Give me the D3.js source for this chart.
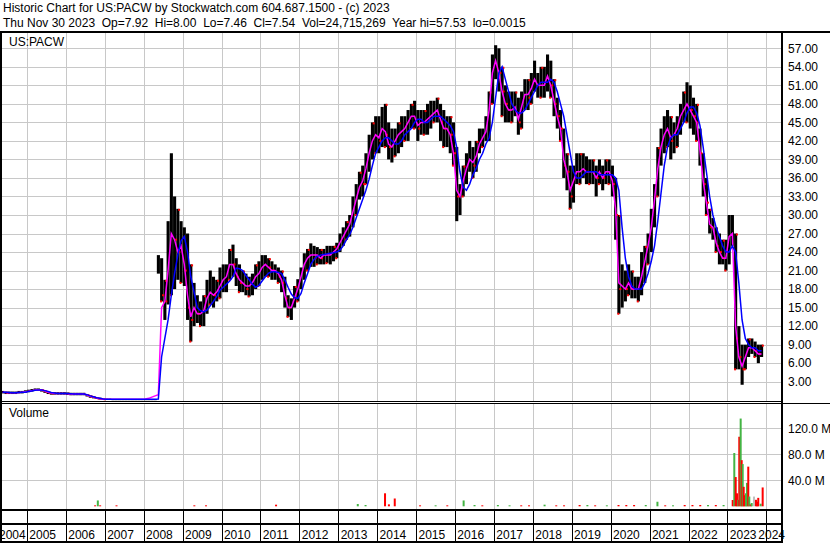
<!DOCTYPE html>
<html><head><meta charset="utf-8">
<script src="https://cdn.jsdelivr.net/npm/d3@7"></script>
<style>
body{margin:0;background:#fff}
svg{display:block}
text{font-family:"Liberation Sans",Arial,sans-serif;font-size:12px;fill:#000}
</style>
</head><body>
<svg id="c" width="830" height="543"></svg>
<script>
const headerLine1 = "Historic Chart for US:PACW by Stockwatch.com 604.687.1500 - (c) 2023";
const headerLine2 = "Thu Nov 30 2023  Op=7.92  Hi=8.00  Lo=7.46  Cl=7.54  Vol=24,715,269  Year hi=57.53  lo=0.0015";
const symbolLabel = "US:PACW";
const volumeLabel = "Volume";

// monthly series, first month = May 2004
const startYear = 2004, startMonth = 5;
const hi = [
 1.5,1.4,1.4,1.4,1.4,1.5,1.5,1.6,
 1.7,1.8,1.9,1.9,1.8,1.6,1.4,1.3,1.3,1.3,1.3,1.3,
 1.25,1.2,1.2,1.2,1.2,1.2,1.0,0.8,0.65,0.5,0.4,0.3,
 0.25,0.25,0.2,0.2,0.2,0.2,0.2,0.2,0.2,0.2,0.2,0.2,
 0.2,0.2,0.2,0.2,
 23.5,23,19.5,29,40,33,31,29,
 28,27,22,19,17,16,17,19.5,21,20,19.5,21.5,
 22,22,24.5,25.2,23,22,21,20.5,20,20.5,22,22.5,
 23.5,23.5,23,22.5,22,21.5,21,20,17,16.5,18.5,19.6,
 21.5,23.8,24.5,25.4,25,24.8,24.5,24.5,25,25,25,25.5,
 27,28,29,30,33,35,37,38,40,43,45,46,
 46,47.5,48,45,44,44,45,46,46,47,48,48.5,
 47,47,47,48,48.5,48.5,49,48,47,46,46,45,
 41,35,38,40,42,41,42,44,44,46,50,56,
 57.5,57,54,51,50,50,50,49,50,52,52,53,
 55,53,54,54,56,55,52,49,47,44,40,38,
 38,40,40,40,39.5,39,39,38,39,38,39,39,
 38,36,30,22,21,22,21,20,20,24,25,27,
 31,35,41,44,46,47,46,45,46,48,50,51.5,
 51,49,48,44,40,36,31,29.5,28,27,26,26,
 30,30,27,12,9,9,10,10,9.5,9,9
];
const lo = [
 1.1,1.0,1.0,1.0,1.0,1.1,1.1,1.2,
 1.3,1.4,1.5,1.5,1.4,1.2,1.0,0.9,0.9,0.9,0.9,0.9,
 0.85,0.8,0.8,0.8,0.8,0.8,0.6,0.4,0.3,0.2,0.1,0.1,
 0.1,0.1,0.1,0.1,0.1,0.1,0.1,0.1,0.1,0.1,0.1,0.1,
 0.1,0.1,0.1,0.1,
 20.5,16,13,15.5,17,18,19.5,19,
 18.5,13,9.5,12,12.5,12,12,14,15.5,15,16,16.5,
 17.5,17.5,19.5,20,18.5,17.5,17.5,17,16.8,17,18,18.5,
 19.5,20,20,19.5,19.5,19,17.5,15,13.5,13,15,16,
 18,19.5,21,21.6,21.6,22,22,22,22.2,22,22.5,23,
 24,25,26,26.5,28,30,32.5,33,35,37,39,40,
 40,41,41,39,38.5,39.5,40,41,42,42,44,44,
 42,43,43,43,44,45,45,42,41,41,40,38,
 29,30,33,35,37,36,37,40,41,42,42,48,
 52,50,46,45,45,45,46,43,44,47,47,48,
 50,49,49,49,50,49,46,44,42,36,34,31,
 32,35,35,36,35,35,35,33,35,34,35,35,
 33,26,14,15,16,17,16.5,16.5,16,17,19,22,
 24,28,33,38,40,41,39,40,41,43,45,45,
 44,43,42,38,33,30,27,26,24,22,22,21,
 22,25,5,5,2.5,5,7,7.5,7,6,7
];
const close = [
 1.3,1.2,1.2,1.2,1.2,1.3,1.3,1.4,
 1.5,1.6,1.7,1.7,1.6,1.4,1.2,1.1,1.1,1.1,1.1,1.1,
 1.05,1.0,1.0,1.0,1.0,1.0,0.8,0.6,0.45,0.3,0.2,0.15,
 0.15,0.15,0.15,0.15,0.15,0.15,0.15,0.15,0.15,0.15,0.15,0.15,
 0.15,0.15,0.15,0.15,
 22,17,16,24,28,26,24,25,
 21,15,13,16,14,14,15,17,18,17,17.5,19,
 19.5,20,22.5,22,20,19,19,18,18.5,19,20,21,
 21.5,22,21.5,21,21,20,19,16.5,15,15,17,18.5,
 20.5,22,23,23.5,23,23.5,23,23.5,23.5,23.5,24,24.5,
 26,27,28,28.5,31.5,33,35.5,35,38,40,42,43,
 42,44,43,41,41,42,43,44,44,45,46,46,
 44,45,45,46,46,47,47,45,44,44,43,40,
 33,33,36,38,39,38,40,42,42.5,44,48,54,
 55,53,50,48,47,47,48,45,48,50,49,51,
 52,51,51,51,53,51,48,46,44,38,37,33,
 36,37,37,38,37,37,37,36,37,36,37,37,
 35,30,18,19,18,19,18,18,18,20,23,25,
 28,33,38,41,43,44,42,43,44,46,47,48,
 47,46,45,40,35,32,28,28,25,24,23,23,
 27,27,10,7,5,7.5,8.5,8.5,8,7.5,7.5
];
const maFast = [
 1.3,1.25,1.2,1.2,1.2,1.25,1.3,1.35,
 1.45,1.55,1.65,1.7,1.65,1.5,1.3,1.15,1.1,1.1,1.1,1.1,
 1.05,1.0,1.0,1.0,1.0,1.0,0.85,0.65,0.5,0.35,0.25,0.15,
 0.15,0.15,0.15,0.15,0.15,0.15,0.15,0.15,0.15,0.15,0.15,0.15,
 0.2,0.3,0.5,0.7,
 0.9,15,16,21,27,26,24,25,
 22,17,13.5,15,14,14,14.5,16.5,17.5,17,17.5,18.5,
 19.5,20,22,22,20.5,19.5,19,18.5,18.5,19,20,20.5,
 21.5,22,21.5,21,21,20.5,19.5,17,15,15,16.5,18,
 20,22,23,23.5,23.5,23.5,23,23.5,23.5,23.5,24,24.5,
 25.5,26.5,27.5,28.5,30.5,32.5,34.5,35.5,37.5,40,42,43,
 42.5,44,43.5,41.5,41,42,43,43.5,44,45,46,46,
 44.5,45,45,45.5,46,46.5,47,45.5,44,44,43,40,
 34,33,35.5,37.5,39,38.5,39.5,41.5,42.5,43.5,47,53,
 55,53,50,48,47,47,47.5,45.5,47.5,49.5,49.5,50.5,
 52,51,51,51,52.5,51,48.5,46,44,39,37,34,
 35.5,37,37,37.5,37,37,37,36,37,36,37,37,
 35.5,31,19,18.5,18,19,18,18,18,20,22.5,25,
 28,32.5,37.5,41,43,44,42.5,43,44,46,47,48,
 47,46,45,40.5,35.5,32,28.5,28,25.5,24,23,23,
 26.5,27,12,7,5.5,7,8.5,8.5,8,7.5,7.5
];
const maSlow = [
 1.3,1.3,1.25,1.2,1.2,1.25,1.3,1.3,
 1.4,1.5,1.6,1.65,1.65,1.55,1.4,1.25,1.15,1.1,1.1,1.1,
 1.1,1.05,1.0,1.0,1.0,1.0,0.9,0.7,0.55,0.4,0.3,0.2,
 0.15,0.15,0.15,0.15,0.15,0.15,0.15,0.15,0.15,0.15,0.15,0.15,
 0.15,0.15,0.15,0.15,
 0.2,7,10,13,17,20.5,23.5,25.8,
 26.5,24,20,17.5,15,14.5,14.3,14.6,15.3,16,16.8,17.8,
 18.3,18.8,19.3,20,21.4,21.3,21,20.2,19.5,18.8,18.3,18.6,
 19.3,20,20.6,20.8,20.8,20.7,20.5,19.5,18.3,17.2,16.6,16.5,
 17.3,19,20.5,22,22.8,23.3,23.5,23.6,23.7,23.8,23.9,24,
 24.3,25,26,26.8,28,29.5,31,32.5,34,35.8,38,40,
 41,42,42.5,42.5,42,41.5,41.5,42,43,43.5,44,45,
 45.5,45.5,45,45,45.5,46,46,46,45.5,45,44.5,43.5,
 41,37,34.5,34,35,36.5,37.5,39,40,41.5,42.5,45,
 49,53,54,52,50,48,47,46.5,46.5,47,48,49,
 50,51,51.5,51.5,51.5,52,51.5,50,48,46,43,40,
 37,36,36,36.5,37,37,37,37,36.5,36.5,36.5,36.5,
 36.5,36,34,28,23,20,18.5,18,18,18,19,20.5,
 22.5,25,29,33.5,38,41,42.5,43,43,44,45,46.5,
 47.5,47.5,46.5,44.5,41,37,33,30,28,26.5,25,24,
 24,25,24,19,13,10,9,8.5,8.5,8,8
];

const priceTicks = [3,6,9,12,15,18,21,24,27,30,33,36,39,42,45,48,51,54,57];
const volTicks = [40,80,120];
const years = [2004,2005,2006,2007,2008,2009,2010,2011,2012,2013,2014,2015,2016,2017,2018,2019,2020,2021,2022,2023,2024];

// volume bars (decimal year, millions, 1 = up/green, 0 = down/red, 2 = unchanged/grey)
const volDate = [2006.75,2006.82,2006.88,2007.3,2009.3,2009.6,2011.4,2013.5,2013.7,2014.2,2014.3,2014.45,
 2015.1,2015.5,2015.8,2016.22,2016.5,2016.7,2017.1,2017.4,2017.7,2017.9,2018.3,2018.6,2018.8,
 2019.2,2019.4,2019.6,2019.9,2020.2,2020.4,2020.6,2020.9,2021.2,2021.4,2021.6,2021.9,
 2022.1,2022.3,2022.5,2022.7,2022.9,
 2023.134,2023.175,2023.211,2023.244,2023.277,2023.303,2023.339,2023.365,2023.391,2023.416,2023.442,
 2023.475,2023.501,2023.534,2023.560,2023.596,2023.622,2023.681,2023.732,2023.766,2023.791,2023.853,2023.904];
const volM = [1.5,9,1.5,1.5,1.5,1.5,2.5,3.5,2,20,3,12,
 1.5,1.5,1.5,9,2,1.5,2,1.5,1.5,1.5,2.5,1.5,1.5,
 2,2,1.5,1.5,2,2,2,2,7,1.5,1.5,2,
 2,2,2,2,2,
 9.7,82,45,20,10,107,135,71,65,30,17,
 20,36,61,15,3,5,15,10,7,13,4,29];
const volKind = [0,1,0,0,0,0,0,1,1,0,0,0,
 0,1,0,1,1,0,1,1,0,0,1,0,0,
 0,1,0,1,0,0,0,1,1,0,1,0,
 0,0,1,0,1,
 0,1,0,0,1,0,1,0,1,0,0,
 1,1,0,1,0,1,2,0,0,0,1,0];

const svg = d3.select('#c');
const x = d3.scaleLinear().domain([2005, 2024]).range([27, 766.4]);
const y = d3.scaleLinear().domain([0, 57]).range([400.2, 48.3]);
const yv = d3.scaleLinear().domain([0, 120]).range([506.3, 428.3]);
const tOf = i => startYear + (startMonth - 1 + i + 0.5) / 12;
const px = v => Math.round(v) + 0.5;
const gridC = '#c8c8c8';

// clip paths
const defs = svg.append('defs');
defs.append('clipPath').attr('id', 'cp').append('rect').attr('x', 2).attr('y', 33).attr('width', 779.5).attr('height', 368);
defs.append('clipPath').attr('id', 'cv').append('rect').attr('x', 2).attr('y', 404).attr('width', 779.5).attr('height', 105);

// grid - main
const gridYears = years.filter(d => d >= 2005);
svg.append('g').selectAll('line').data(gridYears).join('line')
  .attr('x1', d => px(x(d))).attr('x2', d => px(x(d))).attr('y1', 33).attr('y2', 401)
  .attr('stroke', gridC).attr('stroke-width', 1);
svg.append('g').selectAll('line').data(priceTicks).join('line')
  .attr('x1', 2).attr('x2', 782).attr('y1', d => px(y(d))).attr('y2', d => px(y(d)))
  .attr('stroke', gridC).attr('stroke-width', 1);
// grid - volume
svg.append('g').selectAll('line').data(gridYears).join('line')
  .attr('x1', d => px(x(d))).attr('x2', d => px(x(d))).attr('y1', 404).attr('y2', 509)
  .attr('stroke', gridC).attr('stroke-width', 1);
svg.append('g').selectAll('line').data(volTicks).join('line')
  .attr('x1', 2).attr('x2', 782).attr('y1', d => px(yv(d))).attr('y2', d => px(yv(d)))
  .attr('stroke', gridC).attr('stroke-width', 1);

// price bars
const idx = d3.range(hi.length);
const gp = svg.append('g').attr('clip-path', 'url(#cp)');
gp.selectAll('rect.bar').data(idx).join('rect').attr('class', 'bar')
  .attr('x', i => x(tOf(i)) - 1.5).attr('width', 3.1)
  .attr('y', i => y(hi[i])).attr('height', i => Math.max(1.2, y(lo[i]) - y(hi[i])))
  .attr('fill', '#000');
gp.selectAll('rect.dn').data(idx.filter(i => i > 0 && close[i] < close[i - 1])).join('rect').attr('class', 'dn')
  .attr('x', i => x(tOf(i)) + 0.5).attr('width', 2)
  .attr('y', i => y(close[i]) - 1).attr('height', 2).attr('fill', '#ff0000');
gp.selectAll('rect.lw').data(idx.filter(i => i > 47 && i % 3 === 1)).join('rect').attr('class', 'lw')
  .attr('x', i => x(tOf(i)) - 1.5).attr('width', 2)
  .attr('y', i => y(lo[i]) - 1).attr('height', 2).attr('fill', '#ff0000');
gp.selectAll('rect.hw').data(idx.filter(i => i > 47 && i % 4 === 2)).join('rect').attr('class', 'hw')
  .attr('x', i => x(tOf(i)) + 0.3).attr('width', 2)
  .attr('y', i => y(hi[i])).attr('height', 2).attr('fill', '#ff0000');

const line = arr => d3.line().x((d, i) => x(tOf(i))).y(d => y(d))(arr);
gp.append('path').attr('d', line(maFast)).attr('fill', 'none').attr('stroke', '#ff00ff').attr('stroke-width', 1.5);
gp.append('path').attr('d', line(maSlow)).attr('fill', 'none').attr('stroke', '#0000ff').attr('stroke-width', 1.5);

// volume bars
const gv = svg.append('g').attr('clip-path', 'url(#cv)');
const vcol = k => k === 1 ? '#44b444' : (k === 0 ? '#ff0000' : '#c0c0c0');
gv.selectAll('rect').data(d3.range(volDate.length)).join('rect')
  .attr('x', i => x(volDate[i]) - 1).attr('width', 2)
  .attr('y', i => yv(volM[i])).attr('height', i => yv(0) - yv(volM[i]))
  .attr('fill', i => vcol(volKind[i]));

// frame
const fr = svg.append('g').attr('shape-rendering', 'crispEdges');
fr.append('rect').attr('x', 0).attr('y', 31).attr('width', 830).attr('height', 2).attr('fill', '#000');
fr.append('rect').attr('x', 0).attr('y', 31).attr('width', 2).attr('height', 512).attr('fill', '#000');
fr.append('rect').attr('x', 781).attr('y', 31).attr('width', 2).attr('height', 512).attr('fill', '#000');
fr.append('rect').attr('x', 0).attr('y', 401).attr('width', 782).attr('height', 1).attr('fill', '#000');
fr.append('rect').attr('x', 0).attr('y', 403).attr('width', 830).attr('height', 1).attr('fill', '#000');
fr.append('rect').attr('x', 0).attr('y', 509).attr('width', 782).attr('height', 2).attr('fill', '#000');
fr.append('rect').attr('x', 0).attr('y', 523).attr('width', 782).attr('height', 2).attr('fill', '#000');
fr.append('rect').attr('x', 0).attr('y', 541).attr('width', 782).attr('height', 2).attr('fill', '#000');
fr.selectAll('line.sep').data(gridYears).join('line').attr('class', 'sep')
  .attr('x1', d => px(x(d))).attr('x2', d => px(x(d))).attr('y1', 511).attr('y2', 541)
  .attr('stroke', '#000').attr('stroke-width', 1);

// texts
svg.append('text').attr('x', 3).attr('y', 12).text(headerLine1);
svg.append('text').attr('x', 3).attr('y', 27).style('white-space', 'pre').text(headerLine2);
svg.append('text').attr('x', 9).attr('y', 46).text(symbolLabel);
svg.append('text').attr('x', 9).attr('y', 417).text(volumeLabel);

svg.append('g').selectAll('text').data(priceTicks).join('text')
  .attr('x', 788).attr('y', d => y(d) + 4.3).text(d => d3.format('.2f')(d));
svg.append('g').selectAll('text').data(volTicks).join('text')
  .attr('x', 788).attr('y', d => yv(d) + 4.3).text(d => d.toFixed(1) + ' M');

svg.append('g').selectAll('text').data(years).join('text')
  .attr('y', 539).text(d => String(d))
  .attr('x', function(d) {
    const w = this.getComputedTextLength();
    return Math.max(-1, Math.min(x(d) + 2.3, 785 - w));
  });
</script>
</body></html>
